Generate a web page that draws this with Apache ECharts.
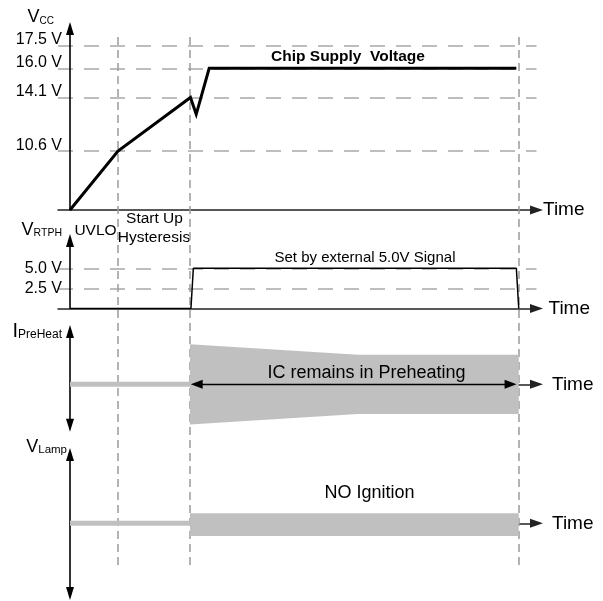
<!DOCTYPE html>
<html><head><meta charset="utf-8">
<script src="https://cdn.jsdelivr.net/npm/echarts@6/dist/echarts.min.js"></script>
<style>html,body{margin:0;padding:0;background:#fff}#c{width:603px;height:601px}</style>
</head><body><div id="c"></div>
<script>
const FONT = 'Arial, "Liberation Sans", Helvetica, sans-serif';
// ---- time axis (arbitrary units) ----
const phaseTimes = [10, 25, 93.5];           // end of UVLO, end of start-up hysteresis, signal off
// ---- Vcc ----
const vccTime = [0, 10, 25.1, 26.3, 29, 93];
const vccVolt = [0, 10.6, 14.1, 13.0, 16.0, 16.0];
const vccTicks = [10.6, 14.1, 16.0, 17.5];
// ---- V_RTPH ----
const rtphTime = [0, 25.2, 25.7, 93.0, 93.5];
const rtphVolt = [0, 0, 5.0, 5.0, 0];
const rtphTicks = [2.5, 5.0];
// ---- idle level before preheat ----
const idleTime = [0, 25];
const idleLevel = [0, 0];
// ---- I_PreHeat envelope ----
const preheatTime = [25, 60, 93.5];
const preheatUpper = [1.0, 0.74, 0.74];
const preheatLower = [-1.0, -0.74, -0.74];
const preheatArrow = [26.4, 91.8];
// ---- V_Lamp envelope ----
const lampTime = [25, 93.5];
const lampUpper = [1.0, 1.0];
const lampLower = [-1.27, -1.27];

const zip = (a, b) => a.map((v, i) => [v, b[i]]);
const GRAY = '#c0c0c0';
const AXC = '#000';
const X_MIN_A = -2.5, X_MAX = 97.2;

function xAxis(gi, min, name, gap, pad) {
  return {
    gridIndex: gi, type: 'value', min: min, max: X_MAX,
    axisLine: name ? { onZero: true, symbol: ['none', 'triangle'], symbolSize: [9, 13], lineStyle: { color: '#222', width: 1.5 } } : { show: false },
    axisTick: { show: false }, axisLabel: { show: false }, splitLine: { show: false },
    name: name || '', nameLocation: 'end', nameGap: gap || 0,
    nameTextStyle: { fontSize: 19, color: '#000', fontFamily: FONT, verticalAlign: 'middle', padding: pad || 0 }
  };
}
function bandSeries(name, gi, times, upper, lower) {
  return {
    name: name, type: 'custom', coordinateSystem: 'cartesian2d', xAxisIndex: gi, yAxisIndex: gi, z: 3,
    data: zip(times, upper), encode: { x: 0, y: 1 }, silent: true,
    renderItem: function (params, api) {
      if (params.dataIndex !== 0) return null;
      const pts = [];
      for (let i = 0; i < times.length; i++) pts.push(api.coord([times[i], upper[i]]));
      for (let i = times.length - 1; i >= 0; i--) pts.push(api.coord([times[i], lower[i]]));
      return { type: 'polygon', shape: { points: pts }, style: { fill: GRAY } };
    }
  };
}
const gridLine = { show: true, lineStyle: { type: [15, 11], color: '#a8a8a8', width: 1.5 } };

const option = {
  animation: false,
  backgroundColor: '#fff',
  grid: [
    { left: 58, right: 66.5, top: 28.5, height: 181.5, outerBoundsMode: 'none' },
    { left: 58, right: 66.5, top: 240.5, height: 68, outerBoundsMode: 'none' },
    { left: 70, right: 66.5, top: 331.5, height: 93.7, outerBoundsMode: 'none' },
    { left: 70, right: 66.5, top: 454.5, height: 139, outerBoundsMode: 'none' },
    { left: 58, right: 66.5, top: 32, height: 533, outerBoundsMode: 'none' }
  ],
  xAxis: [
    xAxis(0, X_MIN_A, 'Time', 6.5, [0, 0, 5, 0]),
    xAxis(1, X_MIN_A, 'Time', 12),
    xAxis(2, 0, 'Time', 15.5),
    xAxis(3, 0, 'Time', 15.5),
    Object.assign(xAxis(4, X_MIN_A, null), { show: false })
  ],
  yAxis: [
    {
      gridIndex: 0, type: 'value', min: 0, max: 18.6,
      breaks: [{ start: 1, end: 9.5, gap: 1.742 }],
      breakArea: { show: false, itemStyle: { opacity: 0, borderWidth: 0, color: 'rgba(0,0,0,0)' }, zigzagAmplitude: 0 },
      axisLine: { show: false, onZero: false },
      axisTick: { show: false, customValues: vccTicks },
      axisLabel: { customValues: vccTicks, formatter: v => v.toFixed(1) + ' V', fontSize: 16, color: '#000', fontFamily: FONT, margin: -4, verticalAlign: 'bottom', lineHeight: 12 },
      splitLine: gridLine
    },
    {
      gridIndex: 1, type: 'value', min: 0, max: 8.46,
      axisLine: { onZero: true, symbol: ['none', 'triangle'], symbolSize: [8, 13], lineStyle: { color: AXC, width: 1.6 } },
      axisTick: { show: false, customValues: rtphTicks },
      axisLabel: { customValues: rtphTicks, formatter: v => v.toFixed(1) + ' V', fontSize: 16, color: '#000', fontFamily: FONT, margin: -4 },
      splitLine: gridLine
    },
    {
      gridIndex: 2, type: 'value', min: -1.02, max: 1.32,
      axisLine: { onZero: true, symbol: ['triangle', 'triangle'], symbolSize: [8, 13], lineStyle: { color: AXC, width: 1.6 } },
      axisTick: { show: false }, axisLabel: { show: false }, splitLine: { show: false }
    },
    {
      gridIndex: 3, type: 'value', min: -7.02, max: 6.88,
      axisLine: { onZero: true, symbol: ['triangle', 'triangle'], symbolSize: [8, 13], lineStyle: { color: AXC, width: 1.6 } },
      axisTick: { show: false }, axisLabel: { show: false }, splitLine: { show: false }
    },
    { gridIndex: 4, type: 'value', min: 0, max: 1, show: false },
    {
      // continuous Vcc axis line (the break-compressed axis above carries labels and grid lines)
      gridIndex: 0, type: 'value', min: 0, max: 1, position: 'left',
      axisLine: { show: true, onZero: true, symbol: ['none', 'triangle'], symbolSize: [8, 13], lineStyle: { color: AXC, width: 1.6 } },
      axisTick: { show: false }, axisLabel: { show: false }, splitLine: { show: false }
    }
  ],
  series: [
    {
      name: 'Vcc', type: 'line', xAxisIndex: 0, yAxisIndex: 0, data: zip(vccTime, vccVolt),
      symbol: 'none', lineStyle: { color: '#000', width: 3, join: 'miter' }, z: 5
    },
    {
      name: 'VRTPH', type: 'line', xAxisIndex: 1, yAxisIndex: 1, data: zip(rtphTime, rtphVolt),
      symbol: 'none', lineStyle: { color: '#000', width: 1.5 }, z: 5
    },
    bandSeries('IPreHeat', 2, preheatTime, preheatUpper, preheatLower),
    {
      name: 'IPreHeat idle', type: 'line', xAxisIndex: 2, yAxisIndex: 2, data: zip(idleTime, idleLevel),
      symbol: 'none', lineStyle: { color: GRAY, width: 5, cap: 'butt' }, z: 4,
      markLine: {
        silent: true, symbol: ['triangle', 'triangle'], symbolSize: [9, 12], z: 6,
        label: { show: false }, lineStyle: { color: '#000', width: 1.3, type: 'solid' },
        data: [[{ coord: [preheatArrow[0], 0] }, { coord: [preheatArrow[1], 0] }]]
      }
    },
    bandSeries('VLamp', 3, lampTime, lampUpper, lampLower),
    {
      name: 'VLamp idle', type: 'line', xAxisIndex: 3, yAxisIndex: 3, data: zip(idleTime, idleLevel),
      symbol: 'none', lineStyle: { color: GRAY, width: 5, cap: 'butt' }, z: 4
    },
    {
      name: 'phases', type: 'line', xAxisIndex: 4, yAxisIndex: 4, data: [], silent: true, z: 1,
      markLine: {
        silent: true, symbol: ['none', 'none'], z: 1, label: { show: false },
        lineStyle: { color: '#9a9a9a', width: 1.5, type: [8, 5] },
        data: phaseTimes.map(t => ({ xAxis: t }))
      }
    }
  ],
  graphic: [
    { type: 'text', x: 54, y: 26, style: { text: '{v|V}{s|CC}', align: 'right', verticalAlign: 'bottom', fill: '#000',
      rich: { v: { fontSize: 18, fontFamily: FONT, verticalAlign: 'bottom' }, s: { fontSize: 10, fontFamily: FONT, verticalAlign: 'bottom' } } } },
    { type: 'text', x: 62, y: 239, style: { text: '{v|V}{s|RTPH}', align: 'right', verticalAlign: 'bottom', fill: '#000',
      rich: { v: { fontSize: 18, fontFamily: FONT, verticalAlign: 'bottom' }, s: { fontSize: 10.5, fontFamily: FONT, verticalAlign: 'bottom' } } } },
    { type: 'text', x: 62, y: 341, style: { text: '{v|I}{s|PreHeat}', align: 'right', verticalAlign: 'bottom', fill: '#000',
      rich: { v: { fontSize: 20, fontFamily: FONT, verticalAlign: 'bottom' }, s: { fontSize: 12, fontFamily: FONT, verticalAlign: 'bottom' } } } },
    { type: 'text', x: 67, y: 456, style: { text: '{v|V}{s|Lamp}', align: 'right', verticalAlign: 'bottom', fill: '#000',
      rich: { v: { fontSize: 18, fontFamily: FONT, verticalAlign: 'bottom' }, s: { fontSize: 11.5, fontFamily: FONT, verticalAlign: 'bottom' } } } },
    { type: 'text', x: 348, y: 57, style: { text: 'Chip Supply  Voltage', fontSize: 15.5, fontWeight: 'bold', fontFamily: FONT, fill: '#000', align: 'center', verticalAlign: 'middle' } },
    { type: 'text', x: 95.5, y: 231, style: { text: 'UVLO', fontSize: 15.5, fontFamily: FONT, fill: '#000', align: 'center', verticalAlign: 'middle' } },
    { type: 'text', x: 154.5, y: 218.5, style: { text: 'Start Up', fontSize: 15.5, fontFamily: FONT, fill: '#000', align: 'center', verticalAlign: 'middle' } },
    { type: 'text', x: 154, y: 238, style: { text: 'Hysteresis', fontSize: 15.5, fontFamily: FONT, fill: '#000', align: 'center', verticalAlign: 'middle' } },
    { type: 'text', x: 365, y: 258, style: { text: 'Set by external 5.0V Signal', fontSize: 15, fontFamily: FONT, fill: '#000', align: 'center', verticalAlign: 'middle' } },
    { type: 'text', x: 366.5, y: 373.5, z: 10, style: { text: 'IC remains in Preheating', fontSize: 18, fontFamily: FONT, fill: '#000', align: 'center', verticalAlign: 'middle' } },
    { type: 'text', x: 369.5, y: 493.5, style: { text: 'NO Ignition', fontSize: 18, fontFamily: FONT, fill: '#000', align: 'center', verticalAlign: 'middle' } }
  ]
};
const chart = echarts.init(document.getElementById('c'), null, { renderer: 'canvas' });
chart.setOption(option);
</script>
</body></html>
